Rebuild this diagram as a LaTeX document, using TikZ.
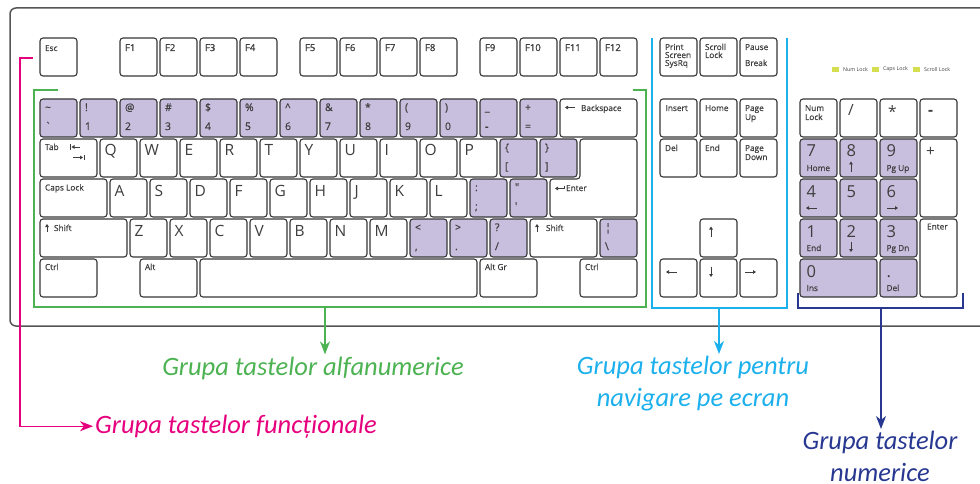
\documentclass[tikz,border=0pt]{standalone}
\usepackage{fontspec}
\setmainfont{Open Sans}
\newfontfamily\labfont{Carlito}
\newfontfamily\keymed{Open Sans}[FakeBold=0.35]
\newfontfamily\keysemi{Open Sans}[FakeBold=0.9]
\usetikzlibrary{arrows.meta}

\definecolor{keyline}{RGB}{55,55,55}
\definecolor{keytext}{RGB}{62,62,62}
\definecolor{lav}{RGB}{200,190,222}
\definecolor{framec}{RGB}{85,85,85}
\definecolor{cAlpha}{RGB}{76,178,82}
\definecolor{cNav}{RGB}{28,176,236}
\definecolor{cNum}{RGB}{40,56,145}
\definecolor{cFun}{RGB}{230,0,126}
\definecolor{ledc}{RGB}{213,222,78}

\tikzset{
  key/.style={draw=keyline, line width=1.1pt, rounded corners=3pt, fill=white,
    minimum height=38pt, inner sep=0pt, outer sep=0pt, anchor=north west},
  lk/.style={key, fill=lav},
  kt/.style={inner sep=0pt, outer sep=0pt, text=keytext, anchor=base west},
  small/.style={kt, font=\fontsize{8.3}{9}\selectfont\keymed},
  fk/.style={kt, font=\fontsize{9.5}{10}\selectfont\keysemi},
  sym/.style={kt, font=\fontsize{10.5}{11}\selectfont\keymed},
  big/.style={kt, font=\fontsize{15.5}{16}\selectfont},
  dig/.style={kt, font=\fontsize{16.5}{17}\selectfont},
  ledtxt/.style={inner sep=0pt, anchor=west, text=keytext, font=\fontsize{5.3}{6}\selectfont},
  led/.style={fill=ledc, minimum width=7pt, minimum height=5.5pt, inner sep=0pt, anchor=north west},
  karrow/.style={draw=keytext, line width=0.8pt, -{Triangle[length=3pt,width=3.6pt]}},
  kbar/.style={draw=keytext, line width=0.8pt},
  grp/.style={line width=1.2pt},
  grparrow/.style={-{Stealth[length=13pt,width=10pt,inset=4pt]}},
  glabel/.style={inner sep=2pt, font=\fontsize{26.5}{31.5}\selectfont\labfont\itshape},
}

% key box: [style]{name}{x}{y}{width}
\newcommand\kbox[5][key]{\node[#1,minimum width=#5pt] (#2) at (#3,#4) {};}
% key text: [style]{key}{suffix}{dx,dy}{text}
\newcommand\klab[5][small]{\node[#1] (#2#3) at ([shift={(#4)}]#2.north west) {#5};}
% small arrow inside a key
\newcommand\karr[3]{\draw[karrow] ([shift={(#2)}]#1.north west) -- ([shift={(#3)}]#1.north west);}
% letter key
\newcommand\keyL[4]{\kbox{#1}{#2}{#3}{37}\klab[big]{#1}{t}{4.5,17}{#4}}
% two-symbol key
\newcommand\keyS[6][key]{\kbox[#1]{#2}{#3}{#4}{37}\klab[sym]{#2}{t}{5,12}{#5}\klab[sym]{#2}{b}{5,31}{#6}}
% function key
\newcommand\keyF[4]{\kbox{#1}{#2}{#3}{37}\klab[fk]{#1}{t}{5,13}{#4}}
% numeric pad digit key
\newcommand\keyN[5]{\kbox[lk]{#1}{#2}{#3}{#4}\klab[dig]{#1}{t}{6.5,18}{#5}}

\begin{document}
\begin{tikzpicture}[x=1pt,y=-1pt]
\useasboundingbox (0,0) rectangle (980,484);
\clip (0,0) rectangle (980,484);

% keyboard case
\draw[draw=framec, line width=1.5pt, rounded corners=6pt] (10,8) rectangle (1010,326);

% ---- function row ----
\kbox{esc}{40}{38}{37}\klab{esc}{t}{5,13}{Esc}
\keyF{f1}{120}{38}{F1}
\keyF{f2}{160}{38}{F2}
\keyF{f3}{200}{38}{F3}
\keyF{f4}{240}{38}{F4}
\keyF{f5}{300}{38}{F5}
\keyF{f6}{340}{38}{F6}
\keyF{f7}{380}{38}{F7}
\keyF{f8}{420}{38}{F8}
\keyF{f9}{480}{38}{F9}
\keyF{f10}{520}{38}{F10}
\keyF{f11}{560}{38}{F11}
\keyF{f12}{600}{38}{F12}

% ---- number row ----
\keyS[lk]{kgrave}{40}{99}{\textasciitilde}{\textasciigrave}
\keyS[lk]{kone}{80}{99}{!}{1}
\keyS[lk]{ktwo}{120}{99}{@}{2}
\keyS[lk]{kthree}{160}{99}{\#}{3}
\keyS[lk]{kfour}{200}{99}{\$}{4}
\keyS[lk]{kfive}{240}{99}{\%}{5}
\keyS[lk]{ksix}{280}{99}{\textasciicircum}{6}
\keyS[lk]{kseven}{320}{99}{\&}{7}
\keyS[lk]{keight}{360}{99}{*}{8}
\keyS[lk]{knine}{400}{99}{(}{9}
\keyS[lk]{kzero}{440}{99}{)}{0}
\keyS[lk]{kminus}{480}{99}{\_}{\textbf{-}}
\keyS[lk]{kequal}{520}{99}{+}{=}
\kbox{bksp}{560}{99}{77}
\klab{bksp}{t}{21,12}{Backspace}
\karr{bksp}{15,8.5}{5,8.5}

% ---- top letter row ----
\kbox{tab}{40}{139}{57}\klab{tab}{t}{5,11}{Tab}
\draw[kbar] ([shift={(30.5,5)}]tab.north west) -- ++(0,6);
\karr{tab}{40,8}{31.5,8}
\karr{tab}{33,18.5}{43,18.5}
\draw[kbar] ([shift={(44,16)}]tab.north west) -- ++(0,5.5);
\keyL{kq}{100}{139}{Q}
\keyL{kw}{140}{139}{W}
\keyL{ke}{180}{139}{E}
\keyL{kr}{220}{139}{R}
\keyL{kt}{260}{139}{T}
\keyL{ky}{300}{139}{Y}
\keyL{ku}{340}{139}{U}
\keyL{ki}{380}{139}{I}
\keyL{ko}{420}{139}{O}
\keyL{kp}{460}{139}{P}
\keyS[lk]{klbr}{500}{139}{\{}{[}
\keyS[lk]{krbr}{540}{139}{\}}{]}
% L-shaped Enter key
\draw[draw=keyline, line width=1.1pt, rounded corners=3pt, fill=white]
  (580,139) -- (637,139) -- (637,217) -- (550,217) -- (550,179) -- (580,179) -- cycle;
\node[small] (enterT) at (566,191) {Enter};
\draw[karrow] ([shift={(-2,-5.5)}]enterT.base west) -- ++(0,3) -- ++(-9,0);

% ---- home row ----
\kbox{caps}{40}{179}{67}\klab{caps}{t}{5,11.5}{Caps Lock}
\keyL{ka}{110}{179}{A}
\keyL{ks}{150}{179}{S}
\keyL{kd}{190}{179}{D}
\keyL{kf}{230}{179}{F}
\keyL{kg}{270}{179}{G}
\keyL{kh}{310}{179}{H}
\keyL{kj}{350}{179}{J}
\keyL{kk}{390}{179}{K}
\keyL{kl}{430}{179}{L}
\keyS[lk]{ksemi}{470}{179}{:}{;}
\keyS[lk]{kquote}{510}{179}{"}{\textquotesingle}

% ---- bottom letter row ----
\kbox{lshift}{40}{219}{87}\klab{lshift}{t}{14,12}{Shift}
\karr{lshift}{7,12.5}{7,5}
\keyL{kz}{130}{219}{Z}
\keyL{kx}{170}{219}{X}
\keyL{kc}{210}{219}{C}
\keyL{kv}{250}{219}{V}
\keyL{kb}{290}{219}{B}
\keyL{kn}{330}{219}{N}
\keyL{km}{370}{219}{M}
\keyS[lk]{kcomma}{410}{219}{<}{,}
\keyS[lk]{kdot}{450}{219}{>}{.}
\keyS[lk]{kslash}{490}{219}{?}{/}
\kbox{rshift}{530}{219}{67}\klab{rshift}{t}{16,12}{Shift}
\karr{rshift}{7,12.5}{7,5}
\keyS[lk]{kbslash}{600}{219}{¦}{\textbackslash}

% ---- space row ----
\kbox{lctrl}{40}{259}{57}\klab{lctrl}{t}{5,11}{Ctrl}
\kbox{lalt}{140}{259}{57}\klab{lalt}{t}{5,11}{Alt}
\kbox{space}{200}{259}{277}
\kbox{altgr}{480}{259}{57}\klab{altgr}{t}{5,11}{Alt Gr}
\kbox{rctrl}{580}{259}{57}\klab{rctrl}{t}{5,11}{Ctrl}

% ---- navigation cluster ----
\kbox{prt}{660}{38}{37}
\klab{prt}{a}{5,12}{Print}\klab{prt}{b}{5,20}{Screen}\klab{prt}{c}{5,28}{SysRq}
\kbox{scr}{700}{38}{37}
\klab{scr}{a}{5,12}{Scroll}\klab{scr}{b}{5,20}{Lock}
\kbox{pause}{740}{38}{37}
\klab{pause}{a}{5,12}{Pause}\klab{pause}{b}{5,28}{Break}
\kbox{ins}{660}{99}{37}\klab{ins}{t}{5.5,12}{Insert}
\kbox{home}{700}{99}{37}\klab{home}{t}{5,12}{Home}
\kbox{pgup}{740}{99}{37}\klab{pgup}{a}{5,12}{Page}\klab{pgup}{b}{5,21}{Up}
\kbox{del}{660}{139}{37}\klab{del}{t}{5,12}{Del}
\kbox{end}{700}{139}{37}\klab{end}{t}{5,12}{End}
\kbox{pgdn}{740}{139}{37}\klab{pgdn}{a}{5,12}{Page}\klab{pgdn}{b}{5,21}{Down}
\kbox{up}{700}{219}{37}\karr{up}{11,18}{11,7.5}
\kbox{left}{660}{259}{37}\karr{left}{17,13}{6,13}
\kbox{down}{700}{259}{37}\karr{down}{11,7.5}{11,18}
\kbox{right}{740}{259}{37}\karr{right}{5,13}{16,13}

% ---- lock indicators ----
\node[led] (ledNum) at (832,66.5) {};
\node[ledtxt] (ledNumT) at ([xshift=3.5pt]ledNum.east) {Num Lock};
\node[led] (ledCaps) at (872,66.5) {};
\node[ledtxt] (ledCapsT) at ([xshift=3.5pt]ledCaps.east) {Caps Lock};
\node[led] (ledScr) at (913,66.5) {};
\node[ledtxt] (ledScrT) at ([xshift=3.5pt]ledScr.east) {Scroll Lock};

% ---- numeric pad ----
\kbox{numlk}{800}{99}{37}\klab{numlk}{a}{5,12}{Num}\klab{numlk}{b}{5,21}{Lock}
\kbox{ndiv}{840}{99}{37}\klab[big]{ndiv}{t}{8,17}{/}
\kbox{nmul}{880}{99}{37}\klab[big]{nmul}{t}{8,19}{*}
\kbox{nsub}{920}{99}{37}\klab[big]{nsub}{t}{8,17}{\textbf{-}}
\keyN{nseven}{800}{139}{37}{7}\klab{nseven}{b}{6.5,32}{Home}
\keyN{neight}{840}{139}{37}{8}\karr{neight}{11,33}{11,22.5}
\keyN{nnine}{880}{139}{37}{9}\klab{nnine}{b}{6.5,32}{Pg Up}
\kbox[key,minimum height=78pt]{nadd}{920}{139}{37}\klab[big]{nadd}{t}{6,18}{+}
\keyN{nfour}{800}{179}{37}{4}\karr{nfour}{17,29}{6,29}
\keyN{nfive}{840}{179}{37}{5}
\keyN{nsix}{880}{179}{37}{6}\karr{nsix}{7,29}{18,29}
\keyN{none}{800}{219}{37}{1}\klab{none}{b}{6.5,32}{End}
\keyN{ntwo}{840}{219}{37}{2}\karr{ntwo}{11,22.5}{11,33}
\keyN{nthree}{880}{219}{37}{3}\klab{nthree}{b}{6.5,32}{Pg Dn}
\kbox[key,minimum height=78pt]{nenter}{920}{219}{37}\klab{nenter}{t}{7,10.5}{Enter}
\keyN{nzero}{800}{259}{77}{0}\klab{nzero}{b}{6.5,32}{Ins}
\keyN{ndot}{880}{259}{37}{.}\klab{ndot}{b}{6.5,32}{Del}

% ---- group: function keys ----
\coordinate (funTap) at (33,58);
\node[glabel, text=cFun, anchor=base west] (funLab) at (93,433) {Grupa tastelor funcționale};
\draw[grp, cFun, grparrow] (funTap) -- ++(-13,0) |- (funLab.west);

% ---- group: alphanumeric keys ----
\draw[grp, cAlpha] (58,90) -- (34,90) -- (34,307) -- (646,307) -- (646,90) -- (633,90);
\coordinate (alphaTap) at (325,307);
\node[glabel, text=cAlpha, anchor=base] (alphaLab) at (313,375) {Grupa tastelor alfanumerice};
\draw[grp, cAlpha, grparrow] (alphaTap) -- (alphaTap |- alphaLab.north);

% ---- group: navigation keys ----
\draw[grp, cNav] (652,38) -- (652,308) -- (787,308) -- (787,38);
\coordinate (navTap) at (719,308);
\node[glabel, text=cNav, align=center, anchor=north] (navLab) at (693,354) {Grupa tastelor pentru\\navigare pe ecran};
\draw[grp, cNav, grparrow] (navTap) -- (navTap |- navLab.north);

% ---- group: numeric keys ----
\draw[grp, cNum] (798,293) -- (798,308) -- (963,308) -- (963,293);
\coordinate (numTap) at (881,308);
\node[glabel, text=cNum, align=center, anchor=north] (numLab) at (880,429) {Grupa tastelor\\numerice};
\draw[grp, cNum, grparrow] (numTap) -- (numTap |- numLab.north);
\end{tikzpicture}
\end{document}
